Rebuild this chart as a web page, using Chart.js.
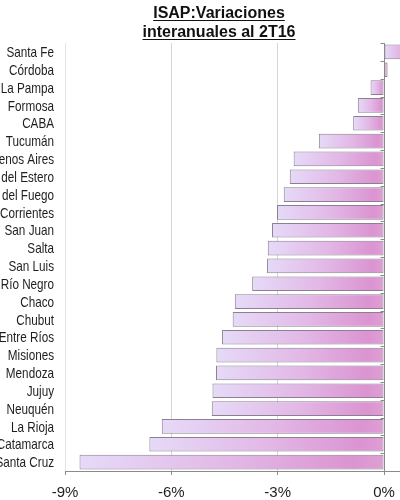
<!DOCTYPE html>
<html>
<head>
<meta charset="utf-8">
<script src="https://cdn.jsdelivr.net/npm/chart.js@4"></script>
<style>
  html, body { margin: 0; padding: 0; background: #fff; }
  #wrap { width: 400px; height: 500px; position: relative; }
</style>
</head>
<body>
<div id="wrap"><canvas id="isapChart"></canvas></div>
<script>
// --- Data ---
const provinces = [
    'Santa Fe', 'Córdoba', 'La Pampa', 'Formosa', 'CABA', 'Tucumán',
    'Buenos Aires', 'Santiago del Estero', 'Tierra del Fuego', 'Corrientes',
    'San Juan', 'Salta', 'San Luis', 'Río Negro', 'Chaco', 'Chubut',
    'Entre Ríos', 'Misiones', 'Mendoza', 'Jujuy', 'Neuquén', 'La Rioja',
    'Catamarca', 'Santa Cruz'
];
const variations = [
    0.8, 0.1, -0.38, -0.74, -0.87, -1.84,
    -2.55, -2.66, -2.83, -3.02,
    -3.16, -3.28, -3.30, -3.72, -4.21, -4.27,
    -4.57, -4.73, -4.74, -4.84, -4.86, -6.27,
    -6.62, -8.59
];
const xTicks = [-9, -6, -3, 0];
const titleLines = ['ISAP:Variaciones', 'interanuales al 2T16'];

// per-bar horizontal gradient, lavender -> pink
function barFill(ctx) {
    const chart = ctx.chart;
    const x = chart.scales.x;
    if (!chart.chartArea || !x) return '#e0b0e0';
    const v = ctx.raw;
    const p0 = x.getPixelForValue(Math.min(v, 0));
    const p1 = x.getPixelForValue(Math.max(v, 0));
    if (!isFinite(p0) || !isFinite(p1) || p1 - p0 < 1) return '#dc9ad2';
    const g = chart.ctx.createLinearGradient(p0, 0, p1, 0);
    g.addColorStop(0, '#e6daf8');
    g.addColorStop(0.5, '#e2b8e6');
    g.addColorStop(0.9, '#db94d1');
    g.addColorStop(1, '#de9fd4');
    return g;
}

// title with underline
const titlePlugin = {
    id: 'underlinedTitle',
    afterDraw(chart) {
        const c = chart.ctx;
        c.save();
        c.font = 'bold 16px "Liberation Sans", Arial, sans-serif';
        c.fillStyle = '#111';
        c.strokeStyle = '#111';
        c.lineWidth = 1.2;
        c.textAlign = 'center';
        c.textBaseline = 'alphabetic';
        const cx = 219;
        titleLines.forEach((line, i) => {
            const y = 18 + i * 19;
            c.fillText(line, cx, y);
            const w = c.measureText(line).width;
            c.beginPath();
            c.moveTo(cx - w / 2, y + 2.5);
            c.lineTo(cx + w / 2, y + 2.5);
            c.stroke();
        });
        c.restore();
    }
};

// category labels in a narrow face (no Arial Narrow installed, so squeeze Liberation Sans)
const narrowLabelsPlugin = {
    id: 'narrowLabels',
    afterDraw(chart) {
        const c = chart.ctx;
        const y = chart.scales.y;
        const sx = 0.78;
        c.save();
        c.font = '15px "Liberation Sans", Arial, sans-serif';
        c.fillStyle = '#1e1e1e';
        c.textAlign = 'right';
        c.textBaseline = 'middle';
        c.scale(sx, 1);
        provinces.forEach((name, i) => {
            c.fillText(name, 54 / sx, y.getPixelForTick(i) + 1);
        });
        c.restore();
    }
};

// zero axis line with small category ticks
const zeroAxisPlugin = {
    id: 'zeroAxis',
    afterDatasetsDraw(chart) {
        const { ctx, chartArea, scales } = chart;
        const x0 = Math.round(scales.x.getPixelForValue(0)) + 0.5;
        ctx.save();
        ctx.strokeStyle = '#8a8a8a';
        ctx.lineWidth = 1;
        ctx.beginPath();
        ctx.moveTo(x0, chartArea.top);
        ctx.lineTo(x0, chartArea.bottom);
        const step = (chartArea.bottom - chartArea.top) / provinces.length;
        for (let i = 0; i <= provinces.length; i++) {
            const ty = Math.round(chartArea.top + i * step) + 0.5;
            ctx.moveTo(x0 - 4, ty);
            ctx.lineTo(x0, ty);
        }
        ctx.stroke();
        ctx.restore();
    }
};

new Chart(document.getElementById('isapChart'), {
    type: 'bar',
    data: {
        labels: provinces,
        datasets: [{
            data: variations,
            backgroundColor: barFill,
            borderColor: '#8c7f92',
            borderWidth: 1,
            borderSkipped: false,
            barPercentage: 0.82,
            categoryPercentage: 1
        }]
    },
    options: {
        indexAxis: 'y',
        responsive: true,
        maintainAspectRatio: false,
        animation: false,
        layout: { padding: { top: 43, right: 0, bottom: 0, left: 0 } },
        plugins: {
            legend: { display: false },
            title: { display: false },
            tooltip: { enabled: false }
        },
        scales: {
            x: {
                min: -9,
                max: 0.45,
                afterBuildTicks: (scale) => {
                    scale.ticks = xTicks.map(v => ({ value: v }));
                },
                afterFit: (scale) => {
                    scale.height = 29;
                    scale.paddingLeft = 0;
                    scale.paddingRight = 0;
                },
                grid: {
                    color: (c) => c.tick && c.tick.value === -9 ? '#e4e4e4' : '#d6d6d6',
                    tickColor: '#8a8a8a',
                    tickLength: 4
                },
                border: { display: true, color: '#8a8a8a' },
                ticks: {
                    color: '#1e1e1e',
                    padding: 9,
                    maxRotation: 0,
                    font: { family: '"Liberation Sans", Arial, sans-serif', size: 15 },
                    callback: (v) => v + '%'
                }
            },
            y: {
                afterFit: (scale) => { scale.width = 65; },
                grid: { display: false, drawTicks: false },
                border: { display: false },
                ticks: { display: false, autoSkip: false }
            }
        }
    },
    plugins: [titlePlugin, narrowLabelsPlugin, zeroAxisPlugin]
});
</script>
</body>
</html>
